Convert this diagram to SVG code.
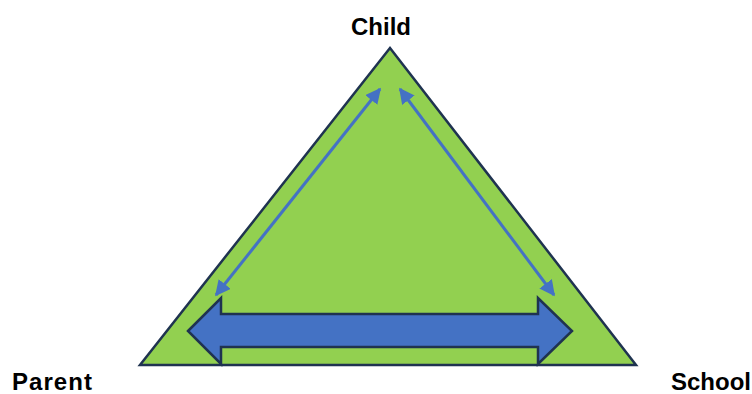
<svg xmlns="http://www.w3.org/2000/svg" width="752" height="394" viewBox="0 0 752 394">
<style>
.lbl{font-family:"Liberation Sans",Arial,sans-serif;font-weight:bold;font-size:24px;fill:#000}
.thin{stroke:#4472C4;stroke-width:3;fill:none}
</style>
<defs>
<marker id="ah" viewBox="0 0 10 10" refX="9" refY="5" markerWidth="5.2" markerHeight="5.2" orient="auto-start-reverse" markerUnits="strokeWidth">
<path d="M0,0 L10,5 L0,10 z" fill="#4472C4"/>
</marker>
</defs>
<g id="triangle">
<polygon points="390,48 140,365 636,365" fill="#92D050" stroke="#1F3350" stroke-width="2.5" stroke-linejoin="miter"/>
</g>
<g id="child"><text class="lbl" x="381" y="35" text-anchor="middle">Child</text></g>
<g id="parent"><text class="lbl" x="12" y="390" textLength="80">Parent</text></g>
<g id="school"><text class="lbl" x="671" y="390">School</text></g>
<g id="connectors">
<line class="thin" x1="216" y1="295" x2="380" y2="89" marker-start="url(#ah)" marker-end="url(#ah)"/>
<line class="thin" x1="400" y1="89" x2="554" y2="295" marker-start="url(#ah)" marker-end="url(#ah)"/>
<polygon points="188,331 221,298 221,314 538,314 538,298 572,331 538,364 538,347 221,347 221,364" fill="#4472C4" stroke="#1F3350" stroke-width="2.5" stroke-linejoin="miter"/>
</g>
</svg>
